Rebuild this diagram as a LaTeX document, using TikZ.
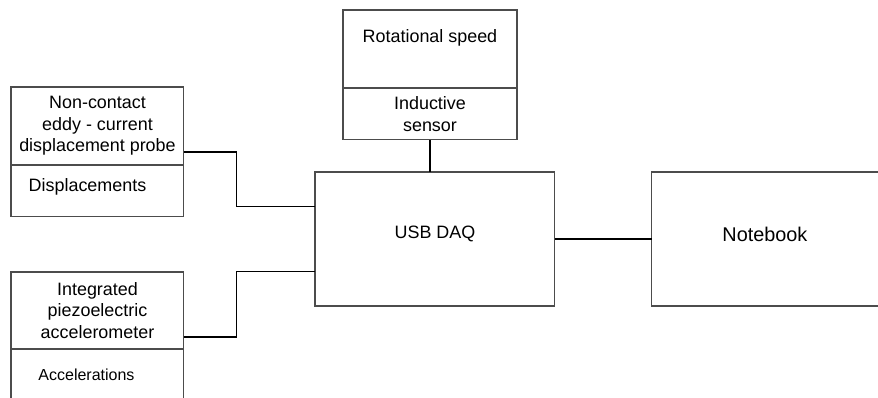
\documentclass[tikz,border=0pt]{standalone}
\usepackage{fontspec}
\setmainfont{Liberation Sans}
\usetikzlibrary{positioning}

\begin{document}
\begin{tikzpicture}[
    x=0.02cm, y=-0.02cm,
    font=\fontsize{10.2}{12.2}\selectfont,
    box/.style={
        rectangle,
        draw=black!70,
        line width=0.6pt,
        align=center,
        inner sep=0pt,
        outer sep=0pt,
        anchor=north west
    },
    wire/.style={
        draw=black,
        line width=0.6pt
    }
]

\useasboundingbox (0,0) rectangle (878,398);
\clip (0,0) rectangle (878,398);

% sensors on the left
\node[box, minimum width=3.46cm, minimum height=1.56cm] (probe) at (11,87)
    {Non-contact\\eddy - current\\displacement probe};
\node[box, below=0pt of probe, minimum width=3.46cm, minimum height=1.04cm,
    label={[shift={(-10,-4)}]center:Displacements}] (disp) {};

\node[box, minimum width=3.46cm, minimum height=1.54cm] (accel) at (11,272)
    {Integrated\\piezoelectric\\accelerometer};
\node[box, below=0pt of accel, minimum width=3.46cm, minimum height=1.04cm,
    label={[shift={(-11,0)}, font=\fontsize{9.1}{11}\selectfont]center:Accelerations}] (accels) {};

% speed sensor on top
\node[box, minimum width=3.48cm, minimum height=1.56cm,
    label={[shift={(0,-11)}]center:Rotational speed}] (speed) at (343,10) {};
\node[box, below=0pt of speed, minimum width=3.48cm, minimum height=1.04cm] (inductive)
    {Inductive\\sensor};

% acquisition and notebook
\node[box, minimum width=4.80cm, minimum height=2.68cm,
    label={[shift={(0,-5)}]center:USB DAQ}] (daq) at (315,172) {};
\node[box, right=1.94cm of daq, minimum width=4.80cm, minimum height=2.68cm,
    label={[shift={(-7,-5)}, font=\fontsize{11.3}{13.5}\selectfont]center:Notebook}] (notebook) {};

\draw[wire] ([yshift=-0.52cm]probe.east) -- ++(53,0) |- ([yshift=0.65cm]daq.west);
\draw[wire] ([yshift=-0.53cm]accel.east) -- ++(53,0) |- ([yshift=-0.65cm]daq.west);
\draw[wire] (inductive.south) -- (inductive.south |- daq.north);
\draw[wire] (daq) -- (notebook);

\end{tikzpicture}
\end{document}
